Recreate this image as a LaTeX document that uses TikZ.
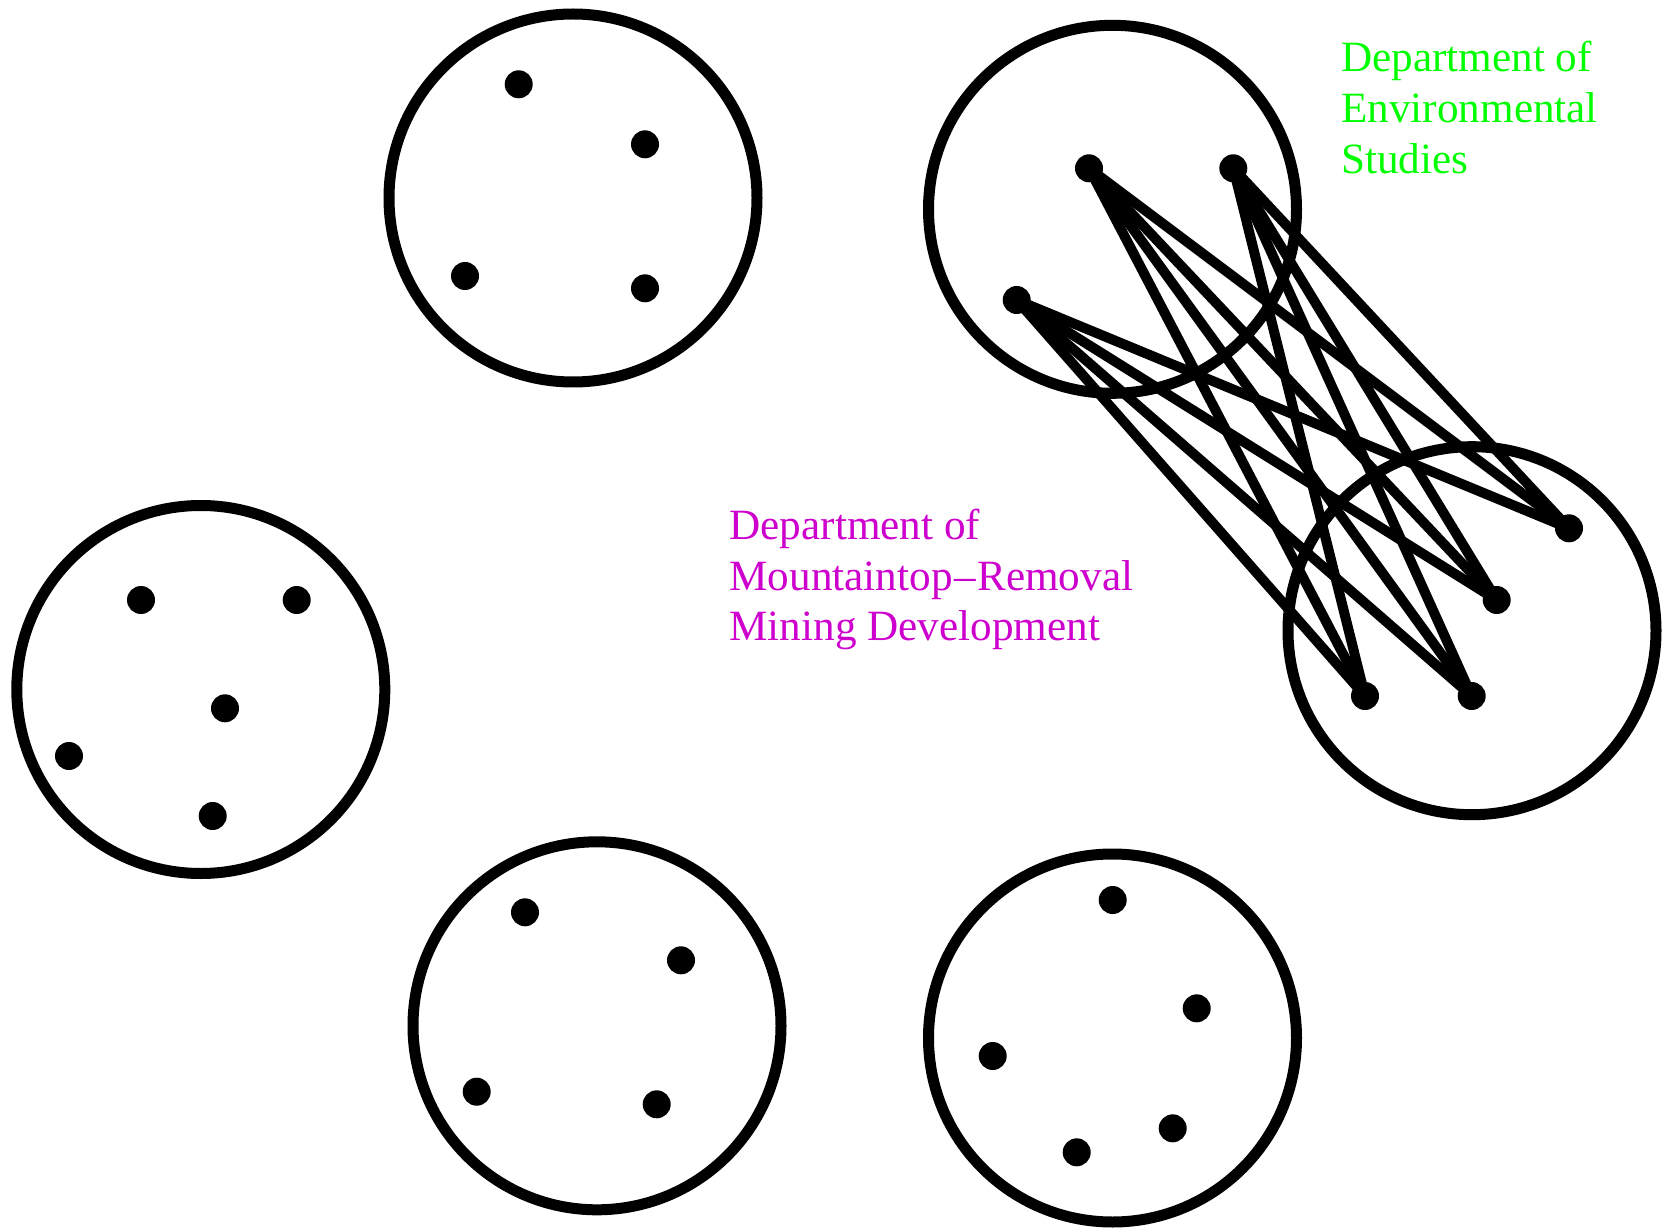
\documentclass[tikz,border=0pt]{standalone}
\usepackage{fontspec}
\setmainfont{Liberation Serif}
\definecolor{labgreen}{RGB}{0,255,0}
\definecolor{labmagenta}{RGB}{205,0,205}
\begin{document}
\begin{tikzpicture}[x=1pt,y=-1pt,
  ring/.style={circle,draw=black,line width=11pt,minimum size=368pt,inner sep=0pt},
  dotnode/.style={circle,fill=black,minimum size=28pt,inner sep=0pt},
  edge/.style={draw=black,line width=10pt},
  lab/.style={anchor=base west,inner sep=0pt,font=\fontsize{43.2pt}{50.8pt}\selectfont}]
\useasboundingbox (0,0) rectangle (1671,1230);
% circles
\node[ring] (C1) at (573,198) {};
\node[ring] (C2) at (1112.5,209.3) {};
\node[ring] (C3) at (1472,630.7) {};
\node[ring] (C4) at (200.8,689.5) {};
\node[ring] (C5) at (597,1025.8) {};
\node[ring] (C6) at (1112.5,1038) {};
% dot positions
\coordinate (a1) at (518.7,84.3);
\coordinate (a2) at (645,144.3);
\coordinate (a3) at (465,276);
\coordinate (a4) at (645,288.3);
\coordinate (b1) at (1089,168.3);
\coordinate (b2) at (1233.3,168.3);
\coordinate (b3) at (1016.7,300);
\coordinate (c1) at (1569,528.3);
\coordinate (c2) at (1496.7,600);
\coordinate (c3) at (1365,696);
\coordinate (c4) at (1471.7,696);
\coordinate (d1) at (141,600);
\coordinate (d2) at (296.7,600);
\coordinate (d3) at (225,708.3);
\coordinate (d4) at (69,756);
\coordinate (d5) at (212.7,816);
\coordinate (e1) at (525,912.3);
\coordinate (e2) at (681,960.3);
\coordinate (e3) at (476.7,1091.7);
\coordinate (e4) at (656.7,1104.3);
\coordinate (f1) at (1112.7,900);
\coordinate (f2) at (1196.7,1008.3);
\coordinate (f3) at (992.7,1056);
\coordinate (f4) at (1172.7,1128.3);
\coordinate (f5) at (1076.7,1152.3);
% edges
\foreach \s in {b1,b2,b3}{
  \foreach \t in {c1,c2,c3,c4}{
    \path[edge] (\s) -- (\t);
  }
}
% dots
\foreach \p in {a1,a2,a3,a4,b1,b2,b3,c1,c2,c3,c4,d1,d2,d3,d4,d5,e1,e2,e3,e4,f1,f2,f3,f4,f5}{
  \node[dotnode] (n\p) at (\p) {};
}
% labels
\node[lab,text=labgreen] (envlab) at (1341,71.7)
  {\begin{tabular}[t]{@{}l@{}}Department of\\Environmental\\Studies\end{tabular}};
\node[lab,text=labmagenta] (minlab) at (729.3,539.3)
  {\begin{tabular}[t]{@{}l@{}}Department of\\Mountaintop\kern1.5pt–\kern1.5pt Removal\\Mining Development\end{tabular}};
\end{tikzpicture}
\end{document}
